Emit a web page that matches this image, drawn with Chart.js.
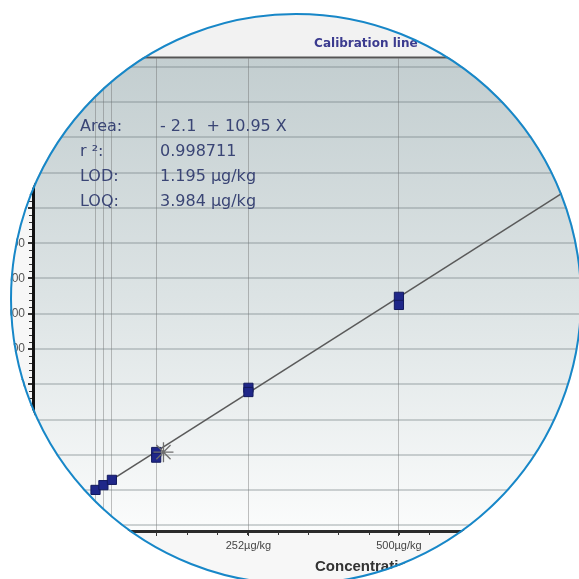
<!DOCTYPE html>
<html>
<head>
<meta charset="utf-8">
<script src="https://cdn.jsdelivr.net/npm/chart.js@4"></script>
<style>
    html, body { margin: 0; padding: 0; background: #fff; }
    #wrap { position: relative; width: 579px; height: 579px; overflow: hidden; background: #fff; }
    #holder { position: absolute; left: 0; top: 0; width: 710px; height: 579px; }
    #ring {
        position: absolute; left: 10px; top: 13px; width: 572px; height: 572px;
        box-sizing: border-box; border: 2.5px solid #1787c8; border-radius: 50%;
        box-shadow: 0 0 0 400px #fff; pointer-events: none;
    }
</style>
</head>
<body>
<div id="wrap">
    <div id="holder"><canvas id="calChart" width="710" height="579"></canvas></div>
    <div id="ring"></div>
</div>
<script>
// Niveles de calibración (µg/kg) y áreas medidas
const concLevels = [0, 13, 27, 100, 252, 500];
const calConc = [0, 13, 27, 100, 100, 252, 252, 500, 500];
const calArea = [5, 140, 290, 1080, 920, 2900, 2780, 5480, 5250];
const xTickLabels = { 252: '252µg/kg', 500: '500µg/kg' };
const yTickValues = [-1000, 0, 1000, 2000, 3000, 4000, 5000, 6000, 7000, 8000, 9000, 10000, 11000, 12000];
const starPoint = [{ x: 112, y: 1076 }];

// Recta de regresión
const intercept = -2.1;
const slope = 10.95;
const lineRange = [0, 1000];

const infoRows = [
    ['Area:', '- 2.1  + 10.95 X'],
    ['r \u00b2:', '0.998711'],
    ['LOD:', '1.195 µg/kg'],
    ['LOQ:', '3.984 µg/kg']
];

document.addEventListener('DOMContentLoaded', function() {
    const fitLine = lineRange.map(x => ({ x: x, y: intercept + slope * x }));
    const points = calConc.map((c, i) => ({ x: c, y: calArea[i] }));

    // Fondo y marco
    const backgroundPlugin = {
        id: 'bg',
        beforeDraw(chart) {
            const ctx = chart.ctx;
            const a = chart.chartArea;
            ctx.save();
            ctx.fillStyle = '#f2f2f2';
            ctx.fillRect(0, 0, chart.width, a.top);
            ctx.fillStyle = '#f7f7f7';
            ctx.fillRect(0, a.top, chart.width, chart.height - a.top);
            const g = ctx.createLinearGradient(0, a.top, 0, a.bottom);
            g.addColorStop(0, '#c3ced0');
            g.addColorStop(0.5, '#dce3e4');
            g.addColorStop(1, '#fbfcfc');
            ctx.fillStyle = g;
            ctx.fillRect(a.left, a.top, a.right - a.left, a.bottom - a.top);
            ctx.restore();
        },
        afterDraw(chart) {
            const ctx = chart.ctx;
            const a = chart.chartArea;
            const xs = chart.scales.x;
            const ys = chart.scales.y;
            ctx.save();
            ctx.strokeStyle = '#555';
            ctx.lineWidth = 2;
            ctx.beginPath();
            ctx.moveTo(0, a.top - 1);
            ctx.lineTo(chart.width, a.top - 1);
            ctx.stroke();

            // marcas menores
            ctx.strokeStyle = '#333';
            ctx.lineWidth = 1;
            for (let v = -1000; v <= 12000; v += 200) {
                const py = Math.round(ys.getPixelForValue(v)) + 0.5;
                ctx.beginPath();
                ctx.moveTo(a.left - 4, py);
                ctx.lineTo(a.left - 1, py);
                ctx.stroke();
            }
            for (let v = -100; v <= 1000; v += 50) {
                const px = Math.round(xs.getPixelForValue(v)) + 0.5;
                ctx.beginPath();
                ctx.moveTo(px, a.bottom + 1);
                ctx.lineTo(px, a.bottom + 4);
                ctx.stroke();
            }

            // texto de la ecuación
            ctx.fillStyle = '#3a4575';
            ctx.font = '16px "DejaVu Sans"';
            ctx.textBaseline = 'middle';
            infoRows.forEach((row, i) => {
                const y = 127 + i * 25;
                ctx.fillText(row[0], 80, y);
                ctx.fillText(row[1], 160, y);
            });
            ctx.restore();
        }
    };

    new Chart(document.getElementById('calChart').getContext('2d'), {
        type: 'scatter',
        data: {
            datasets: [{
                type: 'line',
                label: 'Ajuste',
                data: fitLine,
                borderColor: '#5a5a5a',
                borderWidth: 1.6,
                pointRadius: 0,
                fill: false,
                order: 3
            }, {
                label: 'Calibración',
                data: points,
                pointStyle: 'rect',
                pointRadius: 6.5,
                backgroundColor: '#1f2789',
                borderColor: '#131a5e',
                borderWidth: 1,
                order: 2
            }, {
                label: 'Marca',
                data: starPoint,
                pointStyle: 'star',
                pointRadius: 10,
                borderColor: '#6e6e6e',
                borderWidth: 1.3,
                order: 1
            }]
        },
        options: {
            responsive: false,
            animation: false,
            layout: { padding: { left: 0, right: 0, top: 0, bottom: 0 } },
            plugins: {
                legend: { display: false },
                tooltip: { enabled: false },
                title: {
                    display: true,
                    text: 'Calibration line',
                    color: '#3b3b8f',
                    fullSize: false,
                    font: { family: 'DejaVu Sans', size: 12, weight: 'bold' },
                    padding: { top: 37, bottom: 7 }
                }
            },
            scales: {
                x: {
                    type: 'linear',
                    min: -103,
                    max: 994,
                    afterBuildTicks: function(scale) {
                        scale.ticks = concLevels.map(v => ({ value: v }));
                    },
                    afterFit: function(scale) {
                        scale.height = 48;
                    },
                    ticks: {
                        autoSkip: false,
                        maxRotation: 0,
                        padding: 3,
                        color: '#444',
                        font: { family: 'Liberation Sans', size: 11 },
                        callback: function(value) {
                            return xTickLabels[value] || '';
                        }
                    },
                    grid: {
                        color: 'rgba(100, 100, 100, 0.4)',
                        lineWidth: 1,
                        tickLength: 5,
                        tickColor: '#333'
                    },
                    border: { color: '#2b2b2b', width: 3 },
                    title: {
                        display: true,
                        text: 'Concentration',
                        color: '#333',
                        font: { family: 'Liberation Sans', size: 15, weight: 'bold' },
                        padding: { top: 2, bottom: 3 }
                    }
                },
                y: {
                    type: 'linear',
                    min: -1160,
                    max: 12240,
                    afterBuildTicks: function(scale) {
                        scale.ticks = yTickValues.map(v => ({ value: v }));
                    },
                    afterFit: function(scale) {
                        scale.width = 33;
                    },
                    ticks: {
                        padding: 3,
                        color: '#555',
                        font: { family: 'Liberation Sans', size: 12 }
                    },
                    grid: {
                        color: 'rgba(110, 120, 125, 0.32)',
                        lineWidth: 2,
                        tickLength: 5,
                        tickColor: '#333'
                    },
                    border: { color: '#111', width: 3 }
                }
            }
        },
        plugins: [backgroundPlugin]
    });
});
</script>
</body>
</html>
